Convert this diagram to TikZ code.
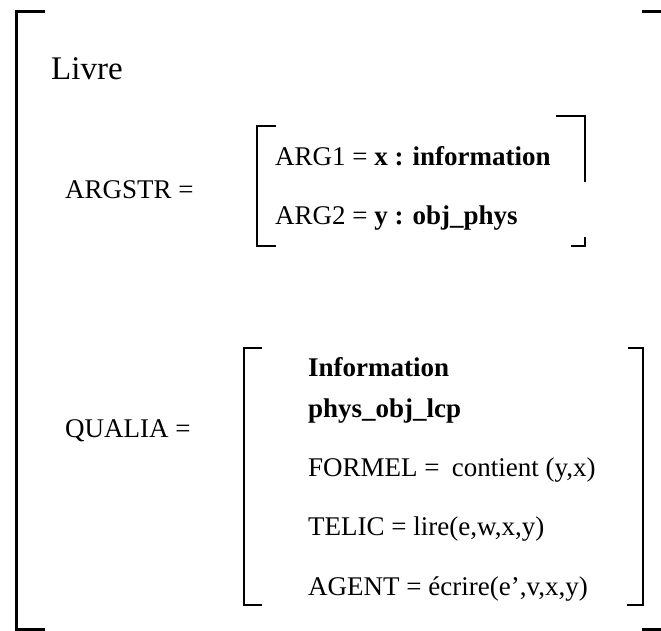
\documentclass[tikz,border=0pt]{standalone}
\usepackage{fontspec}
\setmainfont{Liberation Serif}
\usetikzlibrary{positioning}

\tikzset{
  txt/.style={anchor=base west, inner sep=0pt, font=\fontsize{27}{32}\selectfont},
  bigbrk/.style={line width=3pt},
  brk/.style={line width=1.1pt},
}

\begin{document}
\begin{tikzpicture}[x=1pt, y=-1pt]
  \useasboundingbox (0,0) rectangle (661,631);

  % outer bracket
  \draw[bigbrk] (45,11.5) -- (16,11.5) -- (16,629) -- (45,629);
  \draw[bigbrk] (642,11.5) -- (661,11.5);
  \draw[bigbrk] (642,629) -- (661,629);

  \node[txt, font=\fontsize{33}{38}\selectfont] (livre) at (51,80) {Livre};

  % argument structure
  \node[txt] (argstr) at (65,199) {ARGSTR =};
  \node[txt] (arg1) at (275,166) {ARG1 = \textbf{x : information}};
  \node[txt] (arg2) at (275,224) {ARG2 = \textbf{y : obj\_phys}};
  \draw[brk] (276,126) -- (257,126) -- (257,246) -- (276,246);
  \draw[brk] (556,116) -- (585,116) -- (585,182);
  \draw[brk] (585,237) -- (585,246) -- (571,246);

  % qualia structure
  \node[txt] (qualia) at (65,437) {QUALIA =};
  \foreach \yy/\name/\content in {376/info/{\textbf{Information}},
      417/lcp/{\textbf{phys\_obj\_lcp}},
      476/formel/{FORMEL =\hspace{0.45em}contient (y,x)},
      535/telic/{TELIC = lire(e,w,x,y)},
      595/agent/{AGENT = écrire(e',v,x,y)}}
    \node[txt] (\name) at (308,\yy) {\content};
  \draw[brk] (262,348) -- (244,348) -- (244,605) -- (262,605);
  \draw[brk] (628,348) -- (643,348) -- (643,605) -- (627,605);
\end{tikzpicture}
\end{document}
